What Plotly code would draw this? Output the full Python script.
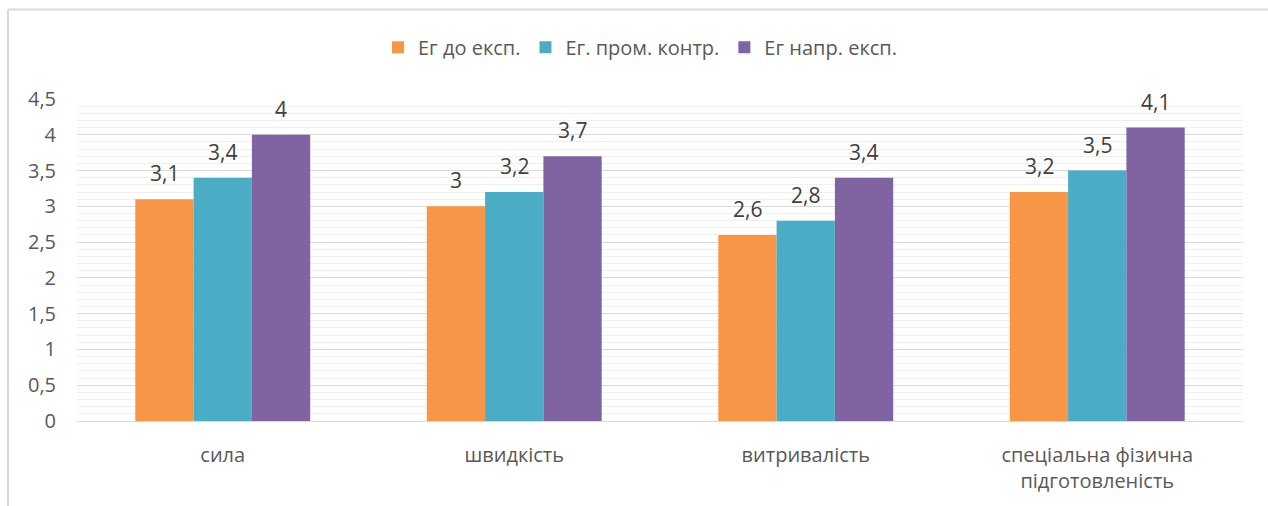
import plotly.graph_objects as go

categories = ["сила", "швидкість", "витривалість", "спеціальна фізична<br>підготовленість"]
series_names = ["Ег до експ.", "Ег. пром. контр.", "Ег напр. експ."]
eg_do = [3.1, 3.0, 2.6, 3.2]
eg_prom = [3.4, 3.2, 2.8, 3.5]
eg_napr = [4.0, 3.7, 3.4, 4.1]
y_ticks = [0, 0.5, 1, 1.5, 2, 2.5, 3, 3.5, 4, 4.5]

colors = ["#F79646", "#4BACC6", "#8064A2"]
series_values = [eg_do, eg_prom, eg_napr]
FONT = "Open Sans, Lato, sans-serif"

W, H = 1268, 506
L, R, T, B = 77, 25, 99, 83

fig = go.Figure()
for name, vals, col in zip(series_names, series_values, colors):
    fig.add_trace(go.Bar(x=categories, y=vals, name=name, marker=dict(color=col, line=dict(width=0))))

def fmt(v):
    return ("%g" % v).replace(".", ",")

shifts = [-58, 0, 58]
annotations = []
for vals, xs in zip(series_values, shifts):
    for c, v in zip(categories, vals):
        annotations.append(dict(x=c, y=v, xref="x", yref="y", text=fmt(v), showarrow=False,
                                xshift=xs, yshift=26, yanchor="middle",
                                font=dict(size=21, color="#404040", family=FONT)))

pw = W - L - R
ph = H - T - B
fx = lambda px: (px - L) / pw
fy = lambda py: 1 - (py - T) / ph

fig.update_layout(
    width=W, height=H,
    margin=dict(l=L, r=R, t=T, b=B, pad=0),
    paper_bgcolor="white", plot_bgcolor="white",
    separators=", ",
    barmode="group", bargap=0.4, bargroupgap=0,
    font=dict(family=FONT, color="#595959", size=20),
    legend=dict(orientation="h", x=fx(640), y=fy(47), xanchor="center", yanchor="middle",
                font=dict(size=20, color="#595959"), itemwidth=30, tracegroupgap=0,
                bgcolor="rgba(0,0,0,0)"),
    xaxis=dict(showgrid=False, showline=False, ticks="", ticklabelstandoff=20,
               tickfont=dict(size=20, color="#595959")),
    yaxis=dict(range=[0, 4.5], tickvals=y_ticks, ticktext=[fmt(t) for t in y_ticks],
               showgrid=True, gridcolor="#D9D9D9", gridwidth=1, zeroline=True, zerolinecolor="#D9D9D9",
               zerolinewidth=1, ticks="", ticklabelstandoff=20,
               tickfont=dict(size=20, color="#595959"),
               minor=dict(dtick=0.1, tick0=0, showgrid=True, gridcolor="#EFEFEF", gridwidth=1)),
    annotations=annotations,
    shapes=[
        dict(type="line", xref="paper", yref="paper", x0=fx(8), x1=fx(8), y0=fy(9), y1=fy(520),
             line=dict(color="#D9D9D9", width=2)),
        dict(type="line", xref="paper", yref="paper", x0=fx(8), x1=fx(1280), y0=fy(9), y1=fy(9),
             line=dict(color="#D9D9D9", width=2)),
    ],
)

fig.write_html("out.html", config={"displayModeBar": False},
               post_script="document.body.style.margin='0';document.body.style.overflow='hidden';")
